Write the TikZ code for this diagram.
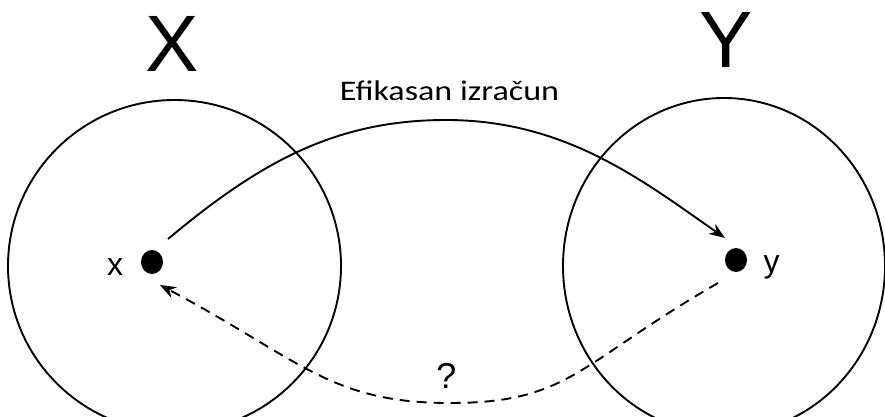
\documentclass[tikz,border=0pt]{standalone}
\usepackage{fontspec}
\setmainfont{Liberation Sans}
\newfontfamily\calib[FakeStretch=1.2]{Carlito}
\usetikzlibrary{arrows.meta,shapes.geometric}
\begin{document}
\begin{tikzpicture}[x=1pt,y=-1pt,
  setshape/.style={draw, ellipse, inner sep=0pt, line width=1.9pt},
  dotnode/.style={fill=black, ellipse, inner sep=0pt, minimum width=22pt, minimum height=24pt},
  arr/.style={-{Stealth[length=16pt,width=12pt]}, line width=1.9pt},
  dsh/.style={dash pattern=on 10pt off 7pt},
  biglab/.style={anchor=base, inner sep=0pt, font=\fontsize{80}{96}\selectfont},
  ptlab/.style={anchor=base, inner sep=0pt, font=\fontsize{32}{38}\selectfont},
  title/.style={anchor=base, inner sep=0pt, font=\calib\fontsize{28.4}{34}\selectfont}]
\useasboundingbox (0,0) rectangle (885,417);
\node[setshape, minimum width=333pt, minimum height=332pt] (SX) at (174.5,266) {};
\node[setshape, minimum width=322pt, minimum height=336pt] (SY) at (724,266) {};
\node[biglab] (LX) at (172.5,72) {X};
\node[biglab] (LY) at (726,68) {Y};
\node[title] (T) at (449.5,100) {Efikasan izračun};
\node[dotnode] (dx) at (152,262) {};
\node[dotnode] (dy) at (736,260) {};
\node[ptlab] (lx) at (115,275) {x};
\node[ptlab] (ly) at (771.5,272) {y};
\node[anchor=base, inner sep=0pt, font=\fontsize{36}{42}\selectfont] (q) at (446.5,388) {?};
\coordinate (s1) at (168,239);
\coordinate (pk) at (446,120);
\coordinate (e1) at (725,238);
\coordinate (s2) at (718,283);
\coordinate (bt) at (450,403);
\coordinate (e2) at (160,285);
\draw[arr] (s1) .. controls (260,162) and (336,120) .. (pk) .. controls (566,120) and (643,181) .. (e1);
\draw[arr, dsh] (s2) .. controls (579,363) and (570,403) .. (bt) .. controls (330,403) and (301,360) .. (e2);
\end{tikzpicture}
\end{document}
